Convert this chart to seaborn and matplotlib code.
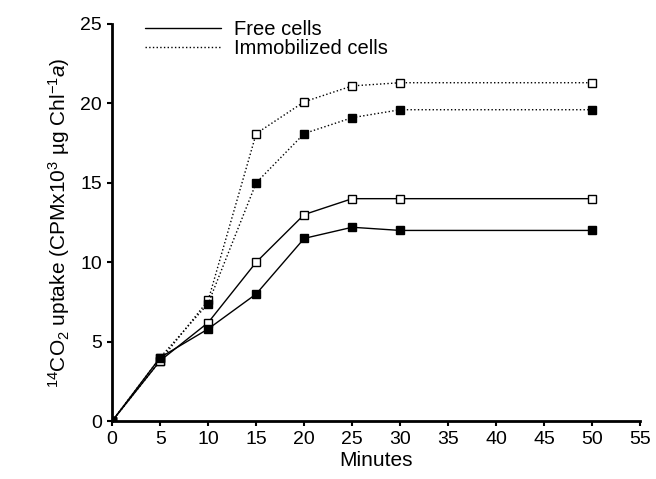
import numpy as np
import pandas as pd
import matplotlib
matplotlib.use("Agg")
import matplotlib.pyplot as plt
import seaborn as sns
from matplotlib.lines import Line2D

# data
minutes = [0, 5, 10, 15, 20, 25, 30, 50]
free_open = [0, 3.8, 6.2, 10.0, 13.0, 14.0, 14.0, 14.0]
free_filled = [0, 4.0, 5.8, 8.0, 11.5, 12.2, 12.0, 12.0]
immob_open = [0, 3.8, 7.6, 18.1, 20.1, 21.1, 21.3, 21.3]
immob_filled = [0, 4.0, 7.4, 15.0, 18.1, 19.1, 19.6, 19.6]

sns.set_style("ticks")
plt.rcParams['font.family'] = ['Liberation Sans', 'DejaVu Sans']
plt.rcParams['mathtext.fontset'] = 'custom'
plt.rcParams['mathtext.rm'] = 'Liberation Sans'
plt.rcParams['mathtext.it'] = 'Liberation Sans:italic'
for k in ['text.color', 'axes.labelcolor', 'xtick.color', 'ytick.color', 'axes.edgecolor']:
    plt.rcParams[k] = 'black'

fig = plt.figure(figsize=(6.56, 4.79), dpi=100)
ax = fig.add_axes([0.171, 0.121, 0.805, 0.829])

series = [
    (free_open, '-', 'white'),
    (free_filled, '-', 'black'),
    (immob_open, ':', 'white'),
    (immob_filled, ':', 'black'),
]
for vals, ls, face in series:
    df = pd.DataFrame({'min': minutes, 'val': vals})
    sns.lineplot(data=df, x='min', y='val', ax=ax, color='black', linewidth=1.0,
                 linestyle=ls, marker='s', markersize=5.5, markerfacecolor=face,
                 markeredgecolor='black', markeredgewidth=1.0)

ax.set_xlim(0, 55)
ax.set_ylim(0, 25)
ax.set_xticks(np.arange(0, 56, 5))
ax.set_yticks(np.arange(0, 26, 5))
ax.tick_params(labelsize=14, width=1.5, length=3.5, direction='out', pad=4)
for s in ['left', 'bottom']:
    ax.spines[s].set_linewidth(2)
sns.despine(ax=ax)
ax.set_xlabel('Minutes', fontsize=15, labelpad=2)
ax.set_ylabel(r'$^{14}$CO$_2$ uptake (CPMx10$^3$ µg Chl$^{-1}$$a$)', fontsize=15, labelpad=6)

handles = [Line2D([], [], color='black', linestyle='-', linewidth=1.0),
           Line2D([], [], color='black', linestyle=':', linewidth=1.0)]
ax.legend(handles, ['Free cells', 'Immobilized cells'], loc='upper left',
          bbox_to_anchor=(0.0625, 1.01), frameon=False, fontsize=14.5,
          handlelength=3.75, handletextpad=0.65, labelspacing=0.0, borderpad=0,
          borderaxespad=0)

fig.savefig("out.png", dpi=100)
